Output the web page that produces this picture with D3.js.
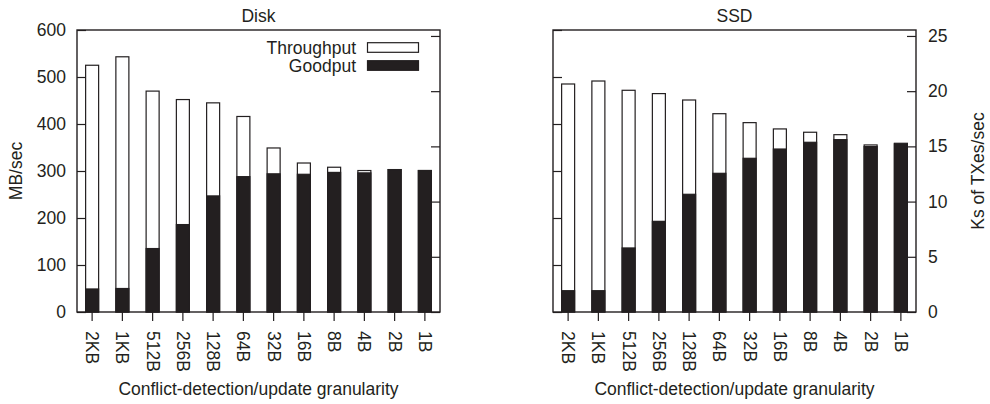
<!DOCTYPE html>
<html>
<head>
<meta charset="utf-8">
<script src="https://cdn.jsdelivr.net/npm/d3@7"></script>
<style>
  body { margin: 0; background: #fff; }
  svg text { font-family: "Liberation Sans", Arial, sans-serif; fill: #231f20; }
</style>
</head>
<body>
<svg id="chart" width="990" height="404"></svg>
<script>
// granularity categories, same for both panels
const categories = ['2KB', '1KB', '512B', '256B', '128B', '64B', '32B', '16B', '8B', '4B', '2B', '1B'];

// Disk, MB/sec (left axis)
const diskThroughput = [525, 543, 470, 452, 445, 416, 349, 317, 308, 301, 303, 301];
const diskGoodput    = [49, 50, 135, 186, 247, 288, 294, 293, 297, 296, 303, 301];

// SSD, Ks of TXes/sec (right axis)
const ssdThroughput = [20.65, 20.92, 20.08, 19.78, 19.2, 17.96, 17.15, 16.58, 16.28, 16.06, 15.13, 15.28];
const ssdGoodput    = [1.93, 1.93, 5.8, 8.21, 10.66, 12.56, 13.92, 14.76, 15.37, 15.61, 14.98, 15.22];

const y1Ticks = [0, 100, 200, 300, 400, 500, 600];
const y2Ticks = [0, 5, 10, 15, 20, 25];

const ink = '#231f20';
const fontSize = 17.5;
const plotTop = 30, plotBottom = 312;

const svg = d3.select('#chart');

const y1 = d3.scaleLinear().domain([0, 600]).range([plotBottom, plotTop]);
const y2 = d3.scaleLinear().domain([0, 25.54]).range([plotBottom, plotTop]);

const panels = [
  { title: 'Disk', left: 77, right: 440, thr: diskThroughput, good: diskGoodput, y: y1, labelSide: 'left' },
  { title: 'SSD', left: 553, right: 916, thr: ssdThroughput, good: ssdGoodput, y: y2, labelSide: 'right' }
];

function styleAxis(g) {
  g.select('.domain').remove();
  g.selectAll('line').attr('stroke', ink).attr('stroke-width', 1.2);
  g.selectAll('text').attr('font-size', fontSize).attr('fill', ink)
    .style('font-family', '"Liberation Sans", Arial, sans-serif');
}

panels.forEach(function(p) {
  const x = d3.scaleBand()
    .domain(categories)
    .range([p.left, p.right])
    .paddingInner(0.57)
    .paddingOuter(0.285);

  const g = svg.append('g');

  // bars: throughput (white) behind, goodput (black) on top
  g.selectAll('rect.thr')
    .data(p.thr)
    .enter()
    .append('rect')
    .attr('class', 'thr')
    .attr('x', (d, i) => x(categories[i]))
    .attr('width', x.bandwidth())
    .attr('y', d => p.y(d))
    .attr('height', d => plotBottom - p.y(d))
    .attr('fill', '#fff')
    .attr('stroke', ink)
    .attr('stroke-width', 1.2);

  g.selectAll('rect.good')
    .data(p.good)
    .enter()
    .append('rect')
    .attr('class', 'good')
    .attr('x', (d, i) => x(categories[i]))
    .attr('width', x.bandwidth())
    .attr('y', d => p.y(d))
    .attr('height', d => plotBottom - p.y(d))
    .attr('fill', ink)
    .attr('stroke', ink)
    .attr('stroke-width', 1.2);

  // left (MB/sec) ticks, inward
  const leftAxis = d3.axisLeft(y1).tickValues(y1Ticks).tickSizeInner(-9).tickSizeOuter(0).tickPadding(11);
  if (p.labelSide !== 'left') leftAxis.tickFormat('');
  g.append('g').attr('transform', 'translate(' + p.left + ',0)').call(leftAxis).call(styleAxis);

  // right (Ks of TXes/sec) ticks, inward
  const rightAxis = d3.axisRight(y2).tickValues(y2Ticks).tickSizeInner(-9).tickSizeOuter(0).tickPadding(12);
  if (p.labelSide !== 'right') rightAxis.tickFormat('');
  g.append('g').attr('transform', 'translate(' + p.right + ',0)').call(rightAxis).call(styleAxis);

  // x axis, outward ticks with rotated labels
  const xAxis = d3.axisBottom(x).tickSizeInner(9).tickSizeOuter(0);
  g.append('g').attr('transform', 'translate(0,' + plotBottom + ')').call(xAxis).call(styleAxis)
    .selectAll('text')
    .attr('y', 0)
    .attr('x', 19)
    .attr('dy', '0.35em')
    .attr('transform', 'rotate(90)')
    .style('text-anchor', 'start');

  // frame
  g.append('rect')
    .attr('x', p.left).attr('y', plotTop)
    .attr('width', p.right - p.left).attr('height', plotBottom - plotTop)
    .attr('fill', 'none').attr('stroke', ink).attr('stroke-width', 1.4);

  // title
  g.append('text')
    .attr('x', (p.left + p.right) / 2).attr('y', 22)
    .attr('text-anchor', 'middle').attr('font-size', fontSize)
    .text(p.title);

  // x axis title
  g.append('text')
    .attr('x', (p.left + p.right) / 2).attr('y', 395)
    .attr('text-anchor', 'middle').attr('font-size', fontSize)
    .text('Conflict-detection/update granularity');
});

// y axis titles
svg.append('text')
  .attr('transform', 'translate(22,' + (plotTop + plotBottom) / 2 + ') rotate(-90)')
  .attr('text-anchor', 'middle').attr('font-size', fontSize)
  .text('MB/sec');

svg.append('text')
  .attr('transform', 'translate(984,' + (plotTop + plotBottom) / 2 + ') rotate(-90)')
  .attr('text-anchor', 'middle').attr('font-size', fontSize)
  .text('Ks of TXes/sec');

// legend in the Disk panel
const legend = [
  { label: 'Throughput', fill: '#fff', y: 47.5 },
  { label: 'Goodput', fill: ink, y: 65.5 }
];
const lg = svg.append('g');
lg.selectAll('rect')
  .data(legend)
  .enter()
  .append('rect')
  .attr('x', 367.5).attr('y', d => d.y - 4.8)
  .attr('width', 51).attr('height', 9.6)
  .attr('fill', d => d.fill).attr('stroke', ink).attr('stroke-width', 1.2);
lg.selectAll('text')
  .data(legend)
  .enter()
  .append('text')
  .attr('x', 356).attr('y', d => d.y)
  .attr('dy', '0.35em')
  .attr('text-anchor', 'end').attr('font-size', fontSize)
  .text(d => d.label);
</script>
</body>
</html>
